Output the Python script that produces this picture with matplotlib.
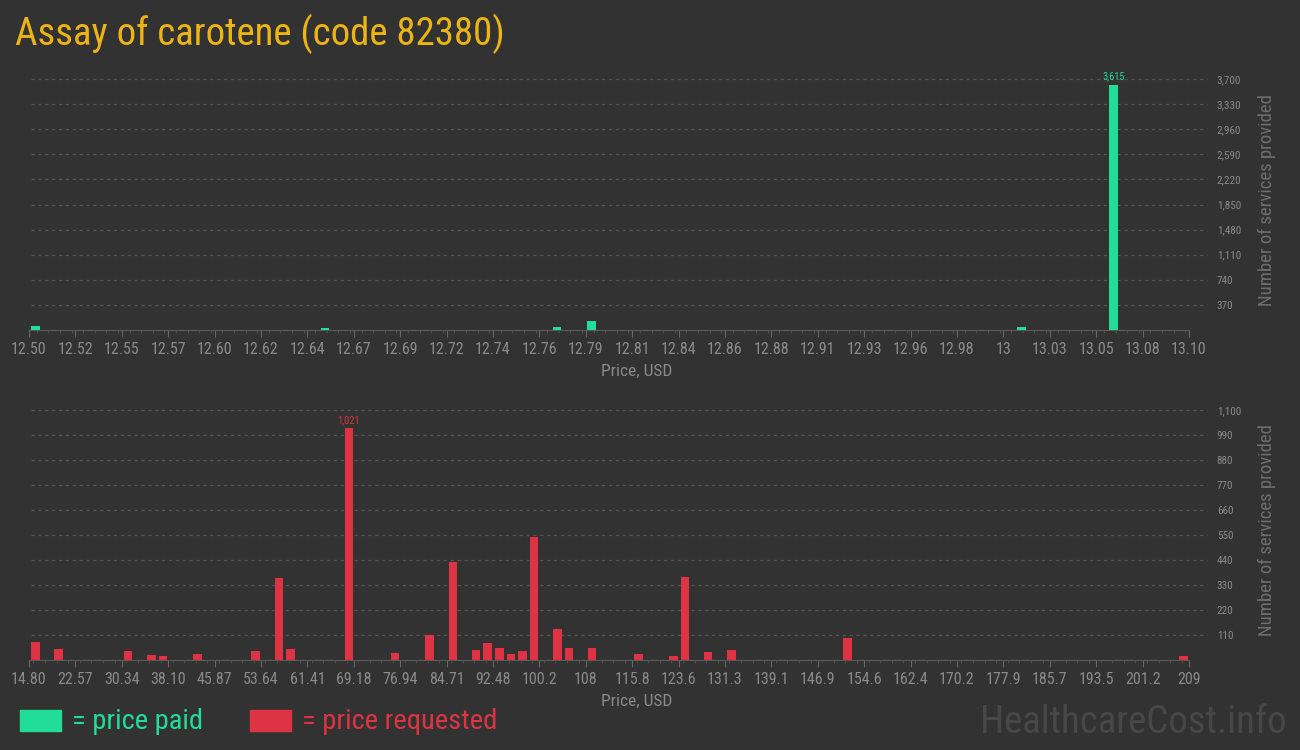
import numpy as np
import matplotlib.pyplot as plt
from matplotlib import font_manager
from matplotlib.patches import Rectangle
from matplotlib.ticker import FixedLocator, MultipleLocator

# price paid (top panel)
paid_price = [12.5034, 12.653, 12.773, 12.791, 13.0134, 13.061]
paid_count = [55, 25, 40, 128, 40, 3615]
paid_ticklabels = ['12.50', '12.52', '12.55', '12.57', '12.60', '12.62', '12.64',
                   '12.67', '12.69', '12.72', '12.74', '12.76', '12.79', '12.81',
                   '12.84', '12.86', '12.88', '12.91', '12.93', '12.96', '12.98',
                   '13', '13.03', '13.05', '13.08', '13.10']
paid_yticks = [370, 740, 1110, 1480, 1850, 2220, 2590, 2960, 3330, 3700]

# price requested (bottom panel)
req_price = [15.89, 19.74, 31.37, 35.31, 37.23, 43.01, 52.72, 56.66, 58.58,
             68.33, 76.08, 81.85, 85.79, 89.64, 91.56, 93.57, 95.50, 97.42,
             99.35, 103.28, 105.21, 109.06, 116.84, 122.70, 124.63, 128.48,
             132.41, 151.83, 208.09]
req_count = [80, 47, 38, 20, 16, 25, 38, 362, 47,
             1021, 29, 112, 430, 42, 77, 51, 25, 38,
             540, 138, 55, 55, 25, 16, 365, 34,
             42, 99, 16]
req_ticklabels = ['14.80', '22.57', '30.34', '38.10', '45.87', '53.64', '61.41',
                  '69.18', '76.94', '84.71', '92.48', '100.2', '108', '115.8',
                  '123.6', '131.3', '139.1', '146.9', '154.6', '162.4', '170.2',
                  '177.9', '185.7', '193.5', '201.2', '209']
req_yticks = [110, 220, 330, 440, 550, 660, 770, 880, 990, 1100]

BG = '#323232'
TEAL = '#21dc9b'
RED = '#dd3342'
GOLD = '#ecb414'
GREY = '#8a8a8a'
GRID = '#555555'

names = {f.name for f in font_manager.fontManager.ttflist}
cond = [n for n in ['Roboto Condensed', 'Liberation Sans Narrow'] if n in names]
narrow = cond + ['Roboto', 'DejaVu Sans']
plt.rcParams['font.family'] = narrow
is_cond = len(cond) > 0
k = 1.0 if is_cond else 0.82

W, H = 1300, 750
fig = plt.figure(figsize=(13, 7.5), dpi=100, facecolor=BG)


def panel(top_px, bottom_px, xs, ys, color, lo, hi, width, ticklabels, yticks, ymax):
    ax = fig.add_axes([29 / W, 1 - bottom_px / H, 1160 / W, (bottom_px - top_px) / H])
    ax.set_facecolor(BG)
    ax.bar(xs, ys, width=width, color=color, zorder=3)
    ax.set_xlim(lo, hi)
    ax.set_ylim(0, ymax)
    for s in ['top', 'left', 'right']:
        ax.spines[s].set_visible(False)
    ax.spines['bottom'].set_color('#5a5a5a')
    step = (hi - lo) / 25
    ax.xaxis.set_major_locator(FixedLocator(np.linspace(lo, hi, 26)))
    ax.set_xticklabels(ticklabels)
    ax.xaxis.set_minor_locator(MultipleLocator(step / 4))
    ax.tick_params(axis='x', which='major', length=5, color='#666666', labelcolor=GREY,
                   labelsize=11.5 * k, pad=4)
    ax.tick_params(axis='x', which='minor', length=2.5, color='#555555')
    # horizontal dashed guides, running a little past the right end
    for y in yticks:
        ax.axhline(y, xmin=0.002, xmax=1.0155, color=GRID, lw=0.9, ls=(0, (2.5, 3)),
                   clip_on=False, zorder=1)
    ax.yaxis.tick_right()
    ax.set_yticks(yticks)
    ax.set_yticklabels([f'{v:,}' for v in yticks])
    ax.tick_params(axis='y', length=0, pad=20, labelcolor=GREY, labelsize=8 * k)
    ax.set_xlabel('Price, USD', color=GREY, fontsize=12.5 * k)
    ax.xaxis.set_label_coords(0.524, -0.13)
    ax.yaxis.set_label_position('right')
    ax.set_ylabel('Number of services provided', color='#6e6e6e', fontsize=13.5 * k,
                  rotation=90, labelpad=10)
    ax.yaxis.set_label_coords(1.059, 0.5)
    i = int(np.argmax(ys))
    ax.text(xs[i], ys[i] + ymax * 0.012, f'{ys[i]:,}', color=color, ha='center',
            va='bottom', fontsize=7.5 * k)
    return ax


panel(70, 330, paid_price, paid_count, TEAL, 12.50, 13.10, 0.0044,
      paid_ticklabels, paid_yticks, 3833)
panel(400, 660, req_price, req_count, RED, 14.80, 209.0, 1.42,
      req_ticklabels, req_yticks, 1144)

fig.text(15 / W, 1 - 45 / H, 'Assay of carotene (code 82380)', color=GOLD,
         fontsize=(28 if is_cond else 23), ha='left', va='baseline')

fig.add_artist(Rectangle((20 / W, 1 - 731 / H), 41 / W, 21 / H, color=TEAL,
                         transform=fig.transFigure))
fig.text(72 / W, 1 - 729 / H, '= price paid', color=TEAL, fontsize=20.5 * k,
         ha='left', va='baseline')
fig.add_artist(Rectangle((250 / W, 1 - 731 / H), 41 / W, 21 / H, color=RED,
                         transform=fig.transFigure))
fig.text(302 / W, 1 - 729 / H, '= price requested', color=RED, fontsize=20.5 * k,
         ha='left', va='baseline')

fig.text(1287 / W, 1 - 733 / H, 'HealthcareCost.info', color='#474747',
         fontsize=(28 if is_cond else 23), ha='right', va='baseline')

fig.savefig('out.png', dpi=100, facecolor=BG)
